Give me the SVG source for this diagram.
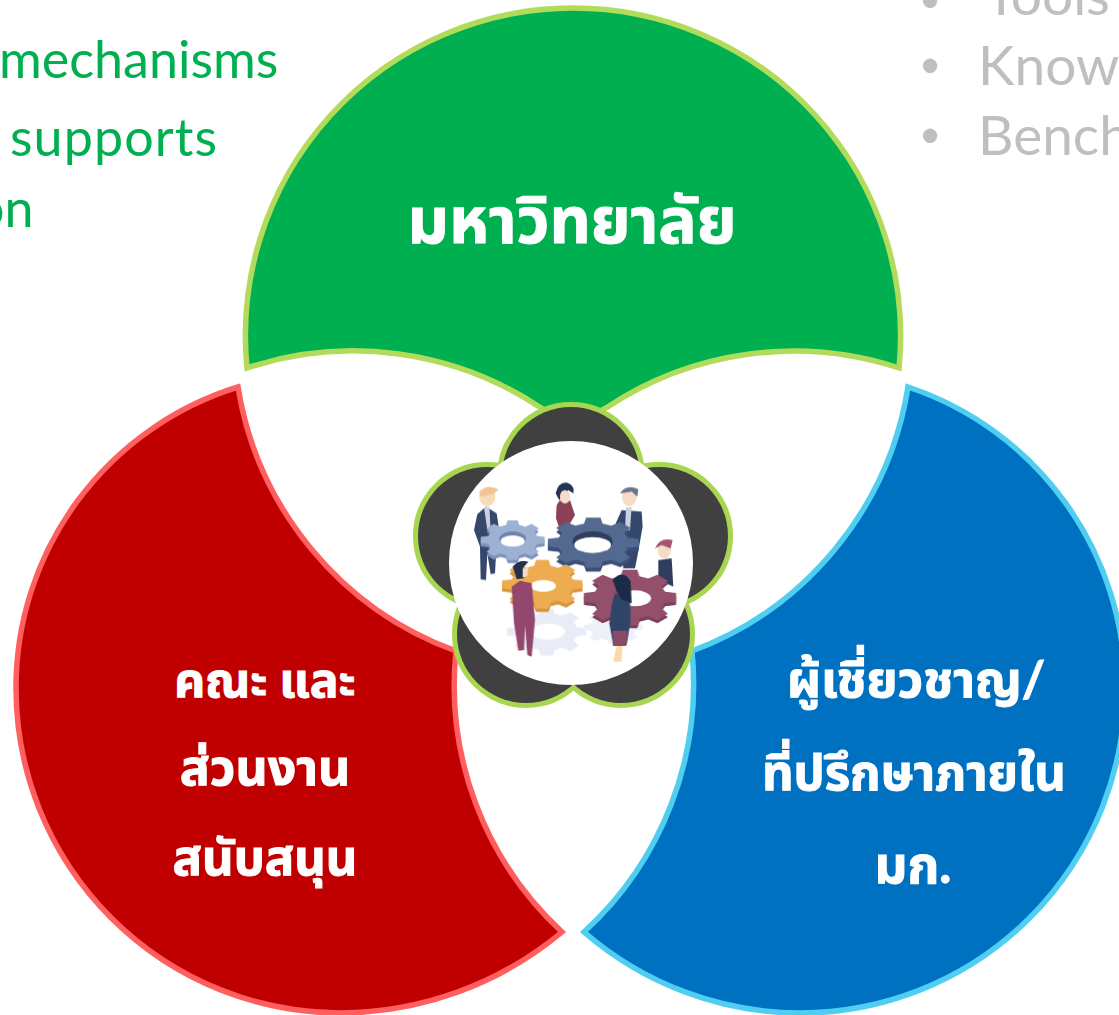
<svg xmlns="http://www.w3.org/2000/svg" width="1119" height="1015" viewBox="0 0 1119 1015">
<style>
text{font-family:"Lato","Noto Sans","Noto Sans Thai","Loma","Garuda","DejaVu Sans",sans-serif}
.th{fill:#fff;stroke:#fff;stroke-width:1px;font-weight:700;text-anchor:middle;font-size:51px}
.g{fill:#00AF50;font-size:52px}
.k{fill:#BFBFBF;font-size:55px}
.b{fill:#BFBFBF;font-size:38px}
.lobe{stroke-width:5.5;stroke-linejoin:miter;stroke-miterlimit:10}
.pet{fill:#404040}
.pets{fill:none;stroke:#A9D651;stroke-width:10}
</style>
<defs>
<filter id="soft" x="-5%" y="-5%" width="110%" height="110%"><feGaussianBlur stdDeviation="2.2"/></filter>
<path id="gear" d="M75.3 -20.2L98.8 -15.6L98.8 15.6L75.3 20.2L67.5 39L80.9 58.8L58.8 80.9L39 67.5L20.2 75.3L15.6 98.8L-15.6 98.8L-20.2 75.3L-39 67.5L-58.8 80.9L-80.9 58.8L-67.5 39L-75.3 20.2L-98.8 15.6L-98.8 -15.6L-75.3 -20.2L-67.5 -39L-80.9 -58.8L-58.8 -80.9L-39 -67.5L-20.2 -75.3L-15.6 -98.8L15.6 -98.8L20.2 -75.3L39 -67.5L58.8 -80.9L80.9 -58.8L67.5 -39Z"/>
</defs>
<rect width="1119" height="1015" fill="#fff"/>
<g id="notes">
<text class="g" x="-1" y="78">mechanisms</text>
<text class="g" x="10" y="156" letter-spacing="1.1">supports</text>
<text class="g" x="-25" y="227">on</text>
<text x="-27" y="908" font-size="51" fill="#C00000">n</text>
<text class="b" x="919" y="12">•</text><text class="k" x="985" y="15">Tools</text>
<text class="b" x="919" y="77">•</text><text class="k" x="978" y="85">Know</text>
<text class="b" x="919" y="147">•</text><text class="k" x="978" y="155">Bench</text>
</g>
<g id="node-university">
<path class="lobe" fill="#00AF50" stroke="#B2DB5C" d="M247 368A327.6 327.6 0 1 1 899 368A338 338 0 0 0 606 408L573 425L541 408A338 338 0 0 0 247 368Z"/>
<text class="th" x="572" y="243" style="font-size:64px">มหาวิทยาลัย</text>
</g>
<g id="node-faculty">
<path class="lobe" fill="#C00000" stroke="#FF5F5F" d="M238 387A315 315 0 0 0 16 688A325 325 0 0 0 340 1013A348 348 0 0 0 562 932A336 336 0 0 1 456 651A338 338 0 0 1 238 387Z"/>
<text class="th" x="265" y="697" style="font-size:48px">คณะ และ</text>
<text class="th" x="265" y="785" style="font-size:50px">ส่วนงาน</text>
<text class="th" x="265" y="875" style="font-size:49px">สนับสนุน</text>
</g>
<g id="node-experts">
<path class="lobe" fill="#0070C0" stroke="#4FCEF2" d="M908 387A317 317 0 0 1 1125 688A325 325 0 0 1 800 1013A331 331 0 0 1 584 932A336 336 0 0 0 692 651A338 338 0 0 0 908 387Z"/>
<text class="th" x="916" y="697" style="font-size:50px">ผู้เชี่ยวชาญ/</text>
<text class="th" x="914" y="790" style="font-size:49px">ที่ปรึกษาภายใน</text>
<text class="th" x="913" y="883">มก.</text>
</g>
<g id="node-center">
<g class="pets"><circle cx="571" cy="476" r="69"/><circle cx="487" cy="536" r="69"/><circle cx="659" cy="536" r="69"/><circle cx="526" cy="634" r="69"/><circle cx="621" cy="634" r="69"/></g>
<g class="pet"><circle cx="571" cy="476" r="69"/><circle cx="487" cy="536" r="69"/><circle cx="659" cy="536" r="69"/><circle cx="526" cy="634" r="69"/><circle cx="621" cy="634" r="69"/></g>
<circle cx="571" cy="563" r="122" fill="#fff"/>
<g transform="translate(400 390) scale(.3333)" filter="url(#soft)">
<use href="#gear" transform="translate(440 725) scale(1.2 .72)" fill="#E9ECF7"/><ellipse cx="445" cy="725" rx="50" ry="24" fill="#fff"/>
<use href="#gear" transform="translate(640 712) scale(.9 .5)" fill="#EEF0F9"/>
<path d="M232 372L258 350L290 370L296 410L290 460L285 550L272 552L262 490L258 570L242 568L240 470L222 420Z" fill="#34466C"/>
<path d="M252 352L268 350L272 420L262 420Z" fill="#C9D2E2"/>
<ellipse cx="262" cy="320" rx="24" ry="28" fill="#F6DCB8"/>
<path d="M238 305Q262 280 296 298L280 312L240 320Z" fill="#F1C493"/>
<path d="M470 345L480 330Q495 350 510 330L525 375L510 400L480 420L468 385Z" fill="#8C3F52"/>
<path d="M467 310Q475 275 500 278Q525 285 520 310L505 300L478 330Z" fill="#263252"/>
<ellipse cx="495" cy="320" rx="15" ry="20" fill="#F6DCC8"/>
<path d="M665 360L725 365L728 410L712 500L705 535L670 535L665 420L645 405Z" fill="#34466C"/>
<path d="M678 352L695 352L690 420L675 420Z" fill="#C9D2E2"/>
<ellipse cx="688" cy="320" rx="22" ry="28" fill="#F6DCC8"/>
<path d="M660 310Q680 280 715 298L712 320L695 305Z" fill="#6A7488"/>
<path d="M775 510L815 505L820 590L775 570Z" fill="#2E3E60"/>
<ellipse cx="793" cy="480" rx="20" ry="26" fill="#F6DCC8"/>
<path d="M765 475Q780 440 818 450L812 475L785 465Z" fill="#A5566E"/>
<g id="gear-light"><use href="#gear" transform="translate(338 460) scale(.97 .6)" fill="#7D93BA"/><use href="#gear" transform="translate(338 450) scale(.97 .6)" fill="#9DB1D3"/><ellipse cx="338" cy="446" rx="40" ry="22" fill="#6E83AB"/><ellipse cx="338" cy="453" rx="36" ry="17" fill="#fff"/></g>
<g id="gear-navy"><use href="#gear" transform="translate(580 470) scale(1.38 .76)" fill="#3A4E78"/><use href="#gear" transform="translate(580 458) scale(1.38 .76)" fill="#52698F"/><ellipse cx="578" cy="455" rx="60" ry="31" fill="#2E3E60"/><ellipse cx="578" cy="465" rx="55" ry="24" fill="#fff"/></g>
<g id="gear-orange"><use href="#gear" transform="translate(427 593) scale(1.22 .74)" fill="#D9943A"/><use href="#gear" transform="translate(427 583) scale(1.22 .74)" fill="#EDAC50"/><ellipse cx="430" cy="588" rx="38" ry="18" fill="#fff"/></g>
<g id="gear-maroon"><use href="#gear" transform="translate(690 632) scale(1.4 .84)" fill="#7D3F58"/><use href="#gear" transform="translate(690 622) scale(1.4 .84)" fill="#94506C"/><ellipse cx="705" cy="625" rx="48" ry="24" fill="#fff"/></g>
<path d="M335 590L360 572L395 580L405 690L395 800L382 795L375 705L372 780L355 782L342 700Z" fill="#94466C"/>
<path d="M338 530Q355 508 385 515L368 535L372 565L350 568Z" fill="#24324E"/>
<path d="M368 538L385 530L382 558L368 562Z" fill="#F6DCC8"/>
<path d="M640 815L650 765L668 765L664 815Z" fill="#F8D9A8"/>
<path d="M636 640L645 610L690 625L692 690L680 765L640 768L628 700Z" fill="#2F4468"/>
<path d="M638 722H682L678 768H640Z" fill="#8C4A66"/>
<path d="M638 570Q670 535 692 575L695 640L665 628L650 605Z" fill="#1F2B48"/>
</g>
</g>
</svg>
